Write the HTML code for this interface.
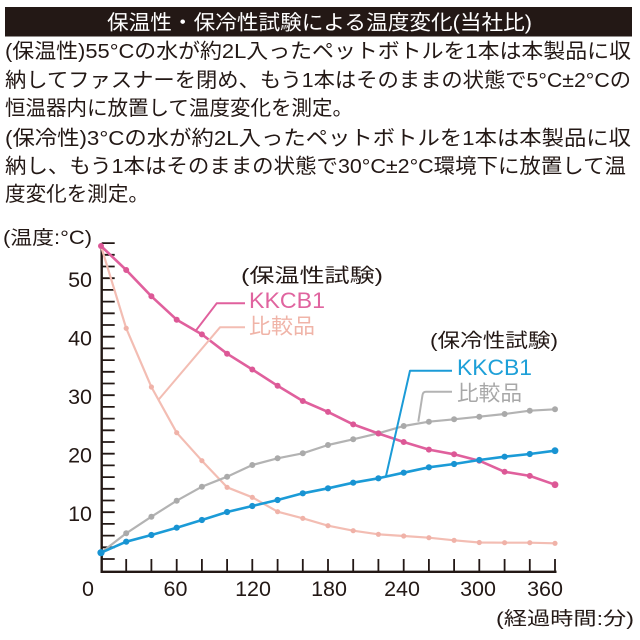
<!DOCTYPE html>
<html><head><meta charset="utf-8"><style>
html,body{margin:0;padding:0;background:#fff;}
svg{display:block;}
text{font-family:"Liberation Sans","Noto Sans CJK JP",sans-serif;}
</style></head><body>
<svg width="640" height="640" viewBox="0 0 640 640" xmlns="http://www.w3.org/2000/svg">
<rect width="640" height="640" fill="#fff"/>
<rect x="5" y="7" width="627" height="29.5" fill="#231815"/>
<text x="107" y="29.5" font-size="20.5" fill="#fff" textLength="425" lengthAdjust="spacingAndGlyphs">保温性・保冷性試験による温度変化(当社比)</text>
<g font-size="20.5" fill="#231815">
<text x="5" y="58" textLength="626" lengthAdjust="spacingAndGlyphs">(保温性)55°Cの水が約2L入ったペットボトルを1本は本製品に収</text>
<text x="5" y="87" textLength="626" lengthAdjust="spacingAndGlyphs">納してファスナーを閉め、もう1本はそのままの状態で5°C±2°Cの</text>
<text x="5" y="115" textLength="348" lengthAdjust="spacingAndGlyphs">恒温器内に放置して温度変化を測定。</text>
<text x="5" y="145" textLength="626" lengthAdjust="spacingAndGlyphs">(保冷性)3°Cの水が約2L入ったペットボトルを1本は本製品に収</text>
<text x="5" y="173" textLength="621" lengthAdjust="spacingAndGlyphs">納し、もう1本はそのままの状態で30°C±2°C環境下に放置して温</text>
<text x="5" y="201" textLength="144" lengthAdjust="spacingAndGlyphs">度変化を測定。</text>
<text x="3" y="244" textLength="89" lengthAdjust="spacingAndGlyphs" font-size="19">(温度:°C)</text>
</g>
<!-- axes -->
<g stroke="#231815" fill="none">
<path d="M101.7 243 V571.8 H556.5" stroke-width="2.4"/>
<path stroke-width="1.8" d="M101.7 559.0h13M101.7 547.3h13M101.7 535.6h13M101.7 523.9h13M101.7 512.2h13M101.7 500.5h13M101.7 488.8h13M101.7 477.1h13M101.7 465.4h13M101.7 453.7h13M101.7 442.0h13M101.7 430.3h13M101.7 418.6h13M101.7 406.9h13M101.7 395.2h13M101.7 383.5h13M101.7 371.8h13M101.7 360.1h13M101.7 348.4h13M101.7 336.7h13M101.7 325.0h13M101.7 313.3h13M101.7 301.6h13M101.7 289.9h13M101.7 278.2h13M101.7 266.5h13M101.7 254.8h13M101.7 243.1h13"/>
<path stroke-width="1.8" d="M126.2 571v-12M151.4 571v-12M176.7 571v-12M201.9 571v-12M227.1 571v-12M252.3 571v-12M277.6 571v-12M302.8 571v-12M328 571v-12M353.2 571v-12M378.4 571v-12M403.7 571v-12M428.9 571v-12M454.1 571v-12M479.3 571v-12M504.6 571v-12M529.8 571v-12M555 571v-12"/>
</g>
<g font-size="21.5" fill="#231815" text-anchor="end">
<text x="92" y="287">50</text>
<text x="92" y="345.5">40</text>
<text x="92" y="404">30</text>
<text x="92" y="462.5">20</text>
<text x="92" y="521">10</text>
</g>
<g font-size="21.5" fill="#231815" text-anchor="middle">
<text x="88" y="596">0</text>
<text x="175.5" y="596">60</text>
<text x="253" y="596">120</text>
<text x="329" y="596">180</text>
<text x="402" y="596">240</text>
<text x="478" y="596">300</text>
<text x="545" y="596">360</text>
</g>
<text x="496" y="625" font-size="18.5" fill="#231815" textLength="138" lengthAdjust="spacingAndGlyphs">(経過時間:分)</text>

<!-- series: salmon 比較品 (warm) -->
<g>
<polyline fill="none" stroke="#f3bdb3" stroke-width="2.2" stroke-linejoin="round" points="101,246 126.2,328.3 151.4,387 176.7,432.7 201.9,460.7 227.1,487.3 252.3,497.3 277.6,511.7 302.8,518.3 328,525.7 353.2,530.7 378.4,534.3 403.7,536 428.9,537.7 454.1,540.3 479.3,542.5 504.6,542.7 529.8,542.7 555,543.3"/>
<g fill="#f0b2a8">
<circle cx="126.2" cy="328.3" r="2.6"/><circle cx="151.4" cy="387" r="2.6"/><circle cx="176.7" cy="432.7" r="2.6"/><circle cx="201.9" cy="460.7" r="2.6"/><circle cx="227.1" cy="487.3" r="2.6"/><circle cx="252.3" cy="497.3" r="2.6"/><circle cx="277.6" cy="511.7" r="2.6"/><circle cx="302.8" cy="518.3" r="2.6"/><circle cx="328" cy="525.7" r="2.6"/><circle cx="353.2" cy="530.7" r="2.6"/><circle cx="378.4" cy="534.3" r="2.6"/><circle cx="403.7" cy="536" r="2.6"/><circle cx="428.9" cy="537.7" r="2.6"/><circle cx="454.1" cy="540.3" r="2.6"/><circle cx="479.3" cy="542.5" r="2.6"/><circle cx="504.6" cy="542.7" r="2.6"/><circle cx="529.8" cy="542.7" r="2.6"/><circle cx="555" cy="543.3" r="2.6"/>
</g>
</g>
<!-- gray 比較品 (cold) -->
<g>
<polyline fill="none" stroke="#b3b3b3" stroke-width="2.2" stroke-linejoin="round" points="101,552.7 126.2,533.3 151.4,516.7 176.7,500.7 201.9,486.7 227.1,476.7 252.3,465 277.6,458.3 302.8,453.3 328,445 353.2,439.3 378.4,433.3 403.7,426 428.9,421.7 454.1,419.3 479.3,416.7 504.6,414 529.8,410.7 555,409.3"/>
<g fill="#aaaaaa">
<circle cx="126.2" cy="533.3" r="3"/><circle cx="151.4" cy="516.7" r="3"/><circle cx="176.7" cy="500.7" r="3"/><circle cx="201.9" cy="486.7" r="3"/><circle cx="227.1" cy="476.7" r="3"/><circle cx="252.3" cy="465" r="3"/><circle cx="277.6" cy="458.3" r="3"/><circle cx="302.8" cy="453.3" r="3"/><circle cx="328" cy="445" r="3"/><circle cx="353.2" cy="439.3" r="3"/><circle cx="378.4" cy="433.3" r="3"/><circle cx="403.7" cy="426" r="3"/><circle cx="428.9" cy="421.7" r="3"/><circle cx="454.1" cy="419.3" r="3"/><circle cx="479.3" cy="416.7" r="3"/><circle cx="504.6" cy="414" r="3"/><circle cx="529.8" cy="410.7" r="3"/><circle cx="555" cy="409.3" r="3"/>
</g>
</g>
<!-- pink KKCB1 (warm) -->
<g>
<polyline fill="none" stroke="#e0609d" stroke-width="2.6" stroke-linejoin="round" points="101,246 126.2,270 151.4,296.3 176.7,319.7 201.9,334.4 227.1,353.7 252.3,369.5 277.6,385.8 302.8,401 328,411.9 353.2,424.4 378.4,433.5 403.7,442 428.9,449.6 454.1,454.3 479.3,460.7 504.6,471.8 529.8,475.9 555,484.7"/>
<g fill="#dc5896">
<circle cx="101" cy="246" r="3"/><circle cx="126.2" cy="270" r="3"/><circle cx="151.4" cy="296.3" r="3"/><circle cx="176.7" cy="319.7" r="3"/><circle cx="201.9" cy="334.4" r="3"/><circle cx="227.1" cy="353.7" r="3"/><circle cx="252.3" cy="369.5" r="3"/><circle cx="277.6" cy="385.8" r="3"/><circle cx="302.8" cy="401" r="3"/><circle cx="328" cy="411.9" r="3"/><circle cx="353.2" cy="424.4" r="3"/><circle cx="378.4" cy="433.5" r="3"/><circle cx="403.7" cy="442" r="3"/><circle cx="428.9" cy="449.6" r="3"/><circle cx="454.1" cy="454.3" r="3"/><circle cx="479.3" cy="460.7" r="3"/><circle cx="504.6" cy="471.8" r="3"/><circle cx="529.8" cy="475.9" r="3"/><circle cx="555" cy="484.7" r="3.4"/>
</g>
</g>
<!-- blue KKCB1 (cold) -->
<g>
<polyline fill="none" stroke="#1b9bd7" stroke-width="2.6" stroke-linejoin="round" points="101,552.7 126.2,541.7 151.4,535 176.7,527.7 201.9,520 227.1,512 252.3,506 277.6,500 302.8,493.3 328,488.3 353.2,482.7 378.4,478.3 403.7,472.7 428.9,467.3 454.1,464 479.3,460 504.6,456.7 529.8,454 555,450.7"/>
<g fill="#1893d2">
<circle cx="101" cy="552.7" r="3.6"/><circle cx="126.2" cy="541.7" r="3.1"/><circle cx="151.4" cy="535" r="3.1"/><circle cx="176.7" cy="527.7" r="3.1"/><circle cx="201.9" cy="520" r="3.1"/><circle cx="227.1" cy="512" r="3.1"/><circle cx="252.3" cy="506" r="3.1"/><circle cx="277.6" cy="500" r="3.1"/><circle cx="302.8" cy="493.3" r="3.1"/><circle cx="328" cy="488.3" r="3.1"/><circle cx="353.2" cy="482.7" r="3.1"/><circle cx="378.4" cy="478.3" r="3.1"/><circle cx="403.7" cy="472.7" r="3.1"/><circle cx="428.9" cy="467.3" r="3.1"/><circle cx="454.1" cy="464" r="3.1"/><circle cx="479.3" cy="460" r="3.1"/><circle cx="504.6" cy="456.7" r="3.1"/><circle cx="529.8" cy="454" r="3.1"/><circle cx="555" cy="450.7" r="3.4"/>
</g>
</g>

<!-- leaders -->
<g fill="none" stroke-width="2" stroke-linejoin="round">
<polyline stroke="#e0609d" points="245,303.3 216.7,303.3 195,331.7"/>
<polyline stroke="#f3bdb3" points="245,327.3 220,327.3 158.3,400"/>
<polyline stroke="#1b9bd7" points="452,370.7 410,370.7 386,476"/>
<path stroke="#b3b3b3" d="M452 391.7 H426 Q423 391.7 422.5 395 L418.3 421.7"/>
</g>

<!-- legend text -->
<text x="241" y="282" font-size="19.5" fill="#231815" textLength="142" lengthAdjust="spacingAndGlyphs">(保温性試験)</text>
<text x="249" y="308" font-size="22" fill="#e0649f" textLength="76" lengthAdjust="spacingAndGlyphs">KKCB1</text>
<text x="249" y="333.5" font-size="21" fill="#f0b4a8" textLength="66" lengthAdjust="spacingAndGlyphs">比較品</text>
<text x="430" y="347" font-size="19.5" fill="#231815" textLength="128" lengthAdjust="spacingAndGlyphs">(保冷性試験)</text>
<text x="457" y="375" font-size="22" fill="#1ea0d8" textLength="75" lengthAdjust="spacingAndGlyphs">KKCB1</text>
<text x="457" y="400.5" font-size="21" fill="#a8a8a8" textLength="65" lengthAdjust="spacingAndGlyphs">比較品</text>
</svg>
</body></html>
